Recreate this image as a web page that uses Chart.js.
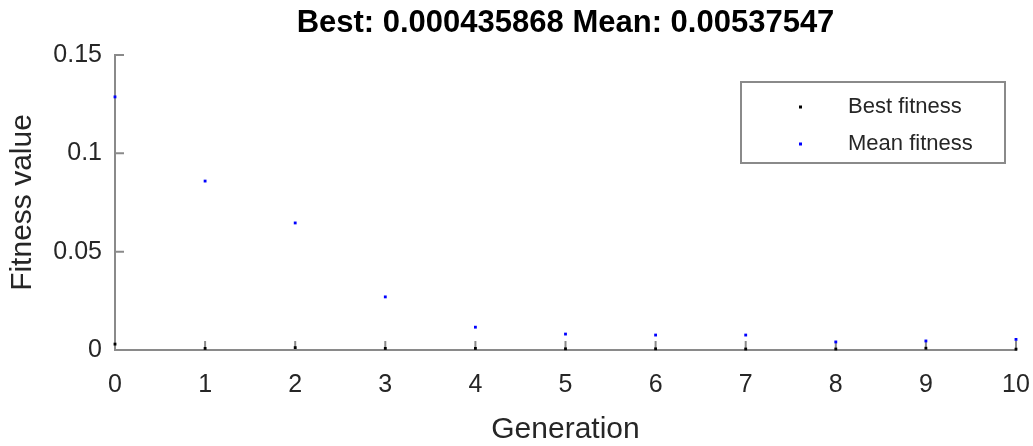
<!DOCTYPE html>
<html>
<head>
<meta charset="utf-8">
<script src="https://cdn.jsdelivr.net/npm/chart.js@4"></script>
<style>
  html, body { margin: 0; padding: 0; background: #fff; }
  #wrap { width: 1033px; height: 446px; }
</style>
</head>
<body>
<div id="wrap"><canvas id="gaChart" width="1033" height="446"></canvas></div>
<script>
// Data
const generations = [0, 1, 2, 3, 4, 5, 6, 7, 8, 9, 10];
const bestFitness = [0.003, 0.0008, 0.0012, 0.0008, 0.0008, 0.0006, 0.0006, 0.0005, 0.0005, 0.0009, 0.000436];
const meanFitness = [0.1287, 0.0859, 0.0646, 0.0270, 0.0116, 0.0081, 0.0076, 0.0076, 0.0041, 0.0046, 0.00538];
const xTicks = [0, 1, 2, 3, 4, 5, 6, 7, 8, 9, 10];
const yTicks = [0, 0.05, 0.1, 0.15];
const titleText = 'Best: 0.000435868 Mean: 0.00537547';

const axisGray = '#8a8a8a';
const textGray = '#262626';
const fontFamily = '"Liberation Sans", Arial, Helvetica, sans-serif';

// MATLAB-style inward tick marks
const inwardTicks = {
  id: 'inwardTicks',
  beforeDatasetsDraw(chart) {
    const { ctx, chartArea, scales } = chart;
    ctx.save();
    ctx.strokeStyle = axisGray;
    ctx.lineWidth = 2;
    ctx.beginPath();
    scales.x.ticks.forEach(t => {
      const px = scales.x.getPixelForValue(t.value);
      ctx.moveTo(px, chartArea.bottom);
      ctx.lineTo(px, chartArea.bottom - 9);
    });
    scales.y.ticks.forEach(t => {
      const py = scales.y.getPixelForValue(t.value);
      ctx.moveTo(chartArea.left, py);
      ctx.lineTo(chartArea.left + 9, py);
    });
    ctx.stroke();
    ctx.restore();
  }
};

// title centred over the axes, like MATLAB
const axesTitle = {
  id: 'axesTitle',
  afterDraw(chart) {
    const { ctx, chartArea } = chart;
    ctx.save();
    ctx.font = 'bold 31px ' + fontFamily;
    ctx.fillStyle = '#000';
    ctx.textAlign = 'center';
    ctx.textBaseline = 'middle';
    ctx.fillText(titleText, (chartArea.left + chartArea.right) / 2, 23);
    ctx.restore();
  }
};

// Boxed legend inside the top right of the plot
const boxLegend = {
  id: 'boxLegend',
  afterDatasetsDraw(chart) {
    const { ctx, chartArea } = chart;
    const w = 264, h = 81;
    const x0 = chartArea.right - 11 - w;
    const y0 = chartArea.top + 27;
    ctx.save();
    ctx.fillStyle = '#fff';
    ctx.fillRect(x0, y0, w, h);
    ctx.strokeStyle = axisGray;
    ctx.lineWidth = 2;
    ctx.strokeRect(x0, y0, w, h);
    ctx.font = '22px ' + fontFamily;
    ctx.textBaseline = 'middle';
    chart.data.datasets.forEach((ds, i) => {
      const cy = y0 + 25 + i * 37;
      ctx.fillStyle = ds.backgroundColor;
      ctx.fillRect(x0 + 58, cy - 1.5, 3, 3);
      ctx.fillStyle = textGray;
      ctx.fillText(ds.label, x0 + 107, cy);
    });
    ctx.restore();
  }
};

new Chart(document.getElementById('gaChart'), {
  type: 'scatter',
  data: {
    datasets: [{
      label: 'Best fitness',
      data: generations.map((g, i) => ({ x: g, y: bestFitness[i] })),
      backgroundColor: '#000000',
      borderColor: '#000000',
      pointStyle: 'rect',
      pointRadius: 2,
      borderWidth: 0,
      clip: false
    }, {
      label: 'Mean fitness',
      data: generations.map((g, i) => ({ x: g, y: meanFitness[i] })),
      backgroundColor: '#0000ff',
      borderColor: '#0000ff',
      pointStyle: 'rect',
      pointRadius: 2,
      borderWidth: 0,
      clip: false
    }]
  },
  options: {
    responsive: false,
    animation: false,
    layout: { padding: { top: 55, right: 17, left: 0, bottom: 0 } },
    plugins: {
      legend: { display: false },
      tooltip: { enabled: false },
      title: { display: false }
    },
    scales: {
      x: {
        type: 'linear',
        min: 0,
        max: 10,
        afterBuildTicks: s => { s.ticks = xTicks.map(v => ({ value: v })); },
        afterFit: s => { s.height = 96; s.paddingRight = 0; s.paddingLeft = 0; },
        grid: { display: false, drawTicks: false },
        border: { display: true, color: axisGray, width: 2 },
        ticks: {
          color: textGray,
          padding: 20,
          font: { family: fontFamily, size: 25 },
          callback: v => String(v)
        },
        title: {
          display: true,
          text: 'Generation',
          color: textGray,
          font: { family: fontFamily, size: 30, lineHeight: 1.1 },
          padding: { top: 0, bottom: 0 }
        }
      },
      y: {
        type: 'linear',
        min: 0,
        max: 0.15,
        afterBuildTicks: s => { s.ticks = yTicks.map(v => ({ value: v })); },
        afterFit: s => { s.width = 115; s.paddingTop = 0; s.paddingBottom = 0; },
        grid: { display: false, drawTicks: false },
        border: { display: true, color: axisGray, width: 2 },
        ticks: {
          color: textGray,
          padding: 13,
          font: { family: fontFamily, size: 25 },
          callback: v => String(v)
        },
        title: {
          display: true,
          text: 'Fitness value',
          color: textGray,
          font: { family: fontFamily, size: 30, lineHeight: 1.2 },
          padding: { top: 5, bottom: 0 }
        }
      }
    }
  },
  plugins: [inwardTicks, boxLegend, axesTitle]
});
</script>
</body>
</html>
